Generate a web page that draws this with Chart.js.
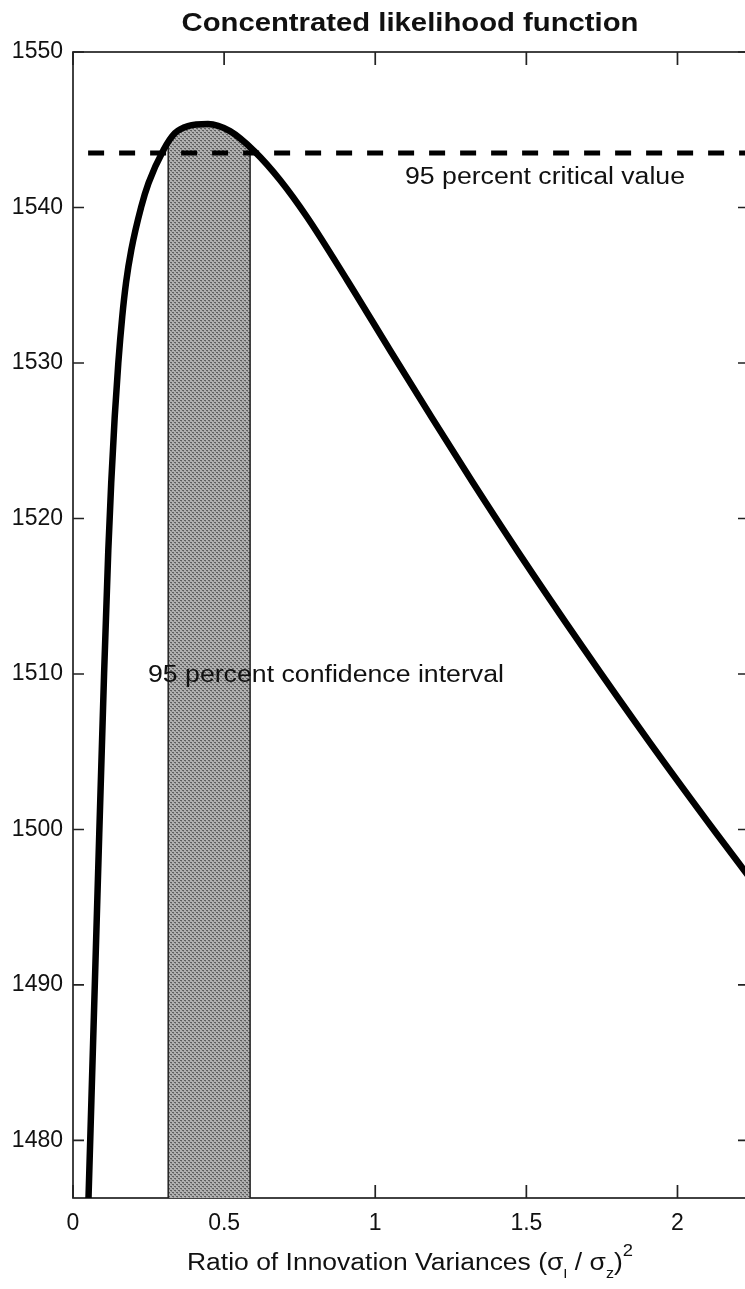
<!DOCTYPE html>
<html><head><meta charset="utf-8">
<script src="https://cdn.jsdelivr.net/npm/chart.js@4.4.1/dist/chart.umd.min.js"></script>
<style>
html,body{margin:0;padding:0;background:#fff;overflow:hidden;width:745px;height:1289px}
#wrap{position:absolute;left:0;top:0;width:760px;height:1289px}
</style>
</head><body><div id="wrap"><canvas id="c" width="760" height="1289"></canvas></div>
<script>
// ---- data ----
const curveX = [0.047, 0.0513, 0.0609, 0.0804, 0.1029, 0.1168, 0.1264, 0.1380, 0.1499, 0.1628, 0.1754, 0.1929,
                0.2256, 0.2501, 0.2994, 0.3375, 0.3805, 0.4467, 0.5195, 0.6022, 0.6849, 0.7742, 0.9066, 1.0489,
                1.1878, 1.3202, 1.4691, 1.6875, 1.9091, 2.1308, 2.2235, 2.30];
const curveY = [1473.6, 1476.3, 1482.6, 1495.46, 1510.06, 1517.97, 1522.28, 1526.53, 1530.0, 1532.96, 1535.15, 1537.27,
                1540.03, 1541.58, 1543.70, 1544.79, 1545.24, 1545.37, 1544.91, 1543.58, 1541.77, 1539.39, 1535.34, 1530.82,
                1526.47, 1522.39, 1517.95, 1511.69, 1505.57, 1499.69, 1497.30, 1495.34];
const criticalValue = 1543.5;
const criticalLineX = [0.05, 2.23];
const ciBounds = [0.315, 0.586];
const ciEdgeY = [1544.4, 1543.85];
const xTicks = [0, 0.5, 1, 1.5, 2];
const xTickLabels = ['0', '0.5', '1', '1.5', '2'];
const yTicks = [1480, 1490, 1500, 1510, 1520, 1530, 1540, 1550];
const xRange = [0, 2.23];
const yRange = [1476.3, 1550];
const titleText = 'Concentrated likelihood function';
const criticalLabel = '95 percent critical value';
const criticalLabelAt = [1.0985, 1541.9];
const ciLabel = '95 percent confidence interval';
const ciLabelAt = [0.248, 1510.06];

// ---- build datasets ----
const curveData = curveX.map((x, i) => ({x, y: curveY[i]}));
const shadeData = [{x: ciBounds[0], y: yRange[0]}, {x: ciBounds[0], y: ciEdgeY[0]}]
  .concat(curveData.filter(p => p.x > ciBounds[0] && p.x < ciBounds[1]))
  .concat([{x: ciBounds[1], y: ciEdgeY[1]}, {x: ciBounds[1], y: yRange[0]}]);
const critData = criticalLineX.map(x => ({x, y: criticalValue}));

// halftone pattern for the shaded interval
const pc = document.createElement('canvas'); pc.width = 4; pc.height = 4;
const pctx = pc.getContext('2d');
pctx.fillStyle = '#b0b0b0'; pctx.fillRect(0, 0, 4, 4);
pctx.fillStyle = '#5e5e5e'; pctx.fillRect(0, 0, 2, 1); pctx.fillRect(2, 2, 2, 1);
pctx.fillStyle = '#8a8a8a'; pctx.fillRect(1, 1, 1, 1); pctx.fillRect(3, 3, 1, 1);
const shadePattern = document.getElementById('c').getContext('2d').createPattern(pc, 'repeat');

const FONT = '"Liberation Sans", Arial, Helvetica, sans-serif';

function drawSegs(ctx, segs, x, y, align, targetW) {
  let w = 0;
  segs.forEach(s => { ctx.font = s.font; s.w = ctx.measureText(s.t).width; w += s.w; });
  const sx = targetW ? targetW / w : 1;
  ctx.save();
  ctx.translate(x, y); ctx.scale(sx, 1);
  ctx.textAlign = 'left'; ctx.textBaseline = 'alphabetic'; ctx.fillStyle = '#111';
  let cx = align === 'center' ? -w / 2 : 0;
  segs.forEach(s => { ctx.font = s.font; ctx.fillText(s.t, cx, s.dy || 0); cx += s.w; });
  ctx.restore();
}

const framePlugin = {
  id: 'frame',
  beforeDatasetsDraw(chart) {
    const {ctx, chartArea: a, scales: {x, y}} = chart;
    ctx.save();
    ctx.strokeStyle = '#222'; ctx.lineWidth = 1.7;
    ctx.strokeRect(a.left, a.top, a.right - a.left, a.bottom - a.top);
    ctx.beginPath();
    yTicks.forEach(v => {
      const p = y.getPixelForValue(v);
      ctx.moveTo(a.left, p); ctx.lineTo(a.left + 11, p);
      ctx.moveTo(a.right, p); ctx.lineTo(a.right - 9, p);
    });
    xTicks.forEach(v => {
      const p = x.getPixelForValue(v);
      ctx.moveTo(p, a.bottom); ctx.lineTo(p, a.bottom - 13);
      ctx.moveTo(p, a.top); ctx.lineTo(p, a.top + 13);
    });
    ctx.stroke();
    ctx.restore();
  },
  afterDraw(chart) {
    const {ctx, chartArea: a, scales: {x, y}} = chart;
    const cxm = (a.left + a.right) / 2;
    drawSegs(ctx, [{t: titleText, font: 'bold 26px ' + FONT}], cxm, 31, 'center', 457);
    drawSegs(ctx, [{t: criticalLabel, font: '23px ' + FONT}],
      x.getPixelForValue(criticalLabelAt[0]), y.getPixelForValue(criticalLabelAt[1]) + 6, 'left', 280);
    drawSegs(ctx, [{t: ciLabel, font: '23px ' + FONT}],
      x.getPixelForValue(ciLabelAt[0]), y.getPixelForValue(ciLabelAt[1]) + 9, 'left', 356);
    drawSegs(ctx, [
      {t: 'Ratio of Innovation Variances (\u03C3', font: '23px ' + FONT},
      {t: 'I', font: '13px ' + FONT, dy: 8},
      {t: ' / \u03C3', font: '23px ' + FONT},
      {t: 'z', font: '14px ' + FONT, dy: 8},
      {t: ')', font: '23px ' + FONT},
      {t: '2', font: '16px ' + FONT, dy: -14}
    ], cxm, 1270, 'center', 446);
  }
};

new Chart(document.getElementById('c'), {
  type: 'line',
  data: {
    datasets: [
      {data: curveData, borderColor: '#000', borderWidth: 6.5, pointRadius: 0, fill: false,
       cubicInterpolationMode: 'monotone', clip: 0, order: 0},
      {data: critData, borderColor: '#000', borderWidth: 5, borderDash: [16, 15], borderCapStyle: 'butt',
       pointRadius: 0, fill: false, tension: 0, clip: 0, order: 1},
      {data: shadeData, borderColor: '#222', borderWidth: 1.5, backgroundColor: shadePattern,
       pointRadius: 0, fill: 'start', tension: 0, clip: 0, order: 2}
    ]
  },
  options: {
    responsive: false, animation: false, devicePixelRatio: 1,
    layout: {padding: {top: 52, right: 13, left: 0, bottom: 0}},
    plugins: {legend: {display: false}, tooltip: {enabled: false}, title: {display: false}},
    scales: {
      x: {
        type: 'linear', min: xRange[0], max: xRange[1],
        grid: {display: false, drawTicks: false}, border: {display: false},
        afterBuildTicks(s) { s.ticks = xTicks.map(v => ({value: v})); },
        afterFit(s) { s.height = 91; },
        ticks: {padding: 12, color: '#111', font: {family: FONT, size: 23}, maxRotation: 0,
                callback: (v) => xTickLabels[xTicks.indexOf(v)]}
      },
      y: {
        type: 'linear', min: yRange[0], max: yRange[1],
        grid: {display: false, drawTicks: false}, border: {display: false},
        afterBuildTicks(s) { s.ticks = yTicks.map(v => ({value: v})); },
        afterFit(s) { s.width = 73; },
        ticks: {padding: 10, color: '#111', font: {family: FONT, size: 23}, callback: (v) => String(v)}
      }
    }
  },
  plugins: [framePlugin]
});
</script></body></html>
